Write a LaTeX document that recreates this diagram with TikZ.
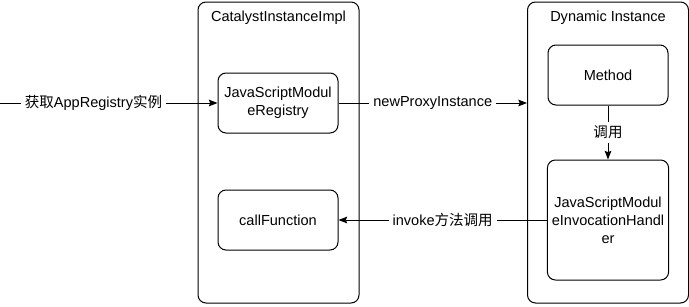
\documentclass[tikz,border=0pt]{standalone}
\usepackage{fontspec}
\setmainfont{Liberation Sans}
\newfontfamily\cjk{Noto Sans CJK SC}
\usetikzlibrary{arrows.meta,positioning}

\tikzset{
  container/.style = {rectangle, draw = black, line width = 0.75pt,
      rounded corners = 6pt, minimum width = 120.75pt, minimum height = 225.75pt},
  block/.style = {rectangle, draw = black, line width = 0.75pt,
      rounded corners = 6pt, minimum width = 90pt, align = center},
  title/.style = {inner sep = 0pt},
  link/.style = {line width = 0.75pt,
      -{Stealth[length = 6.5pt, width = 5pt, inset = 1pt]}},
  tag/.style = {fill = white, inner sep = 3pt}
}

\begin{document}
\begin{tikzpicture}[x = 0.75pt, y = -0.75pt, font = \fontsize{10.9}{13.5}\selectfont]
  \useasboundingbox (0,0) rectangle (689,307);

  % the two outer frames
  \node[container] (catalyst) at (278.5,152.5) {};
  \node[container] (dynamic) at (608,152.5) {};
  \node[title, below = 7pt of catalyst.north] {CatalystInstanceImpl};
  \node[title, below = 7pt of dynamic.north] {Dynamic Instance};

  % inner blocks
  \node[block, minimum height = 45pt] (registry) at (278,103)
      {JavaScriptModul\\eRegistry};
  \node[block, minimum height = 45pt] (callfn) at (278,220) {callFunction};
  \node[block, minimum height = 45pt] (method) at (608,75) {Method};
  \node[block, minimum height = 90pt] (handler) at (608,220)
      {JavaScriptModul\\eInvocationHandl\\er};

  \coordinate (entry) at (0,103);

  % calls between them
  \draw[link] (entry) -- node[tag, pos = 0.43] {{\cjk 获取}AppRegistry{\cjk 实例}} (registry);
  \draw[link] (registry) -- node[tag] {newProxyInstance} (dynamic.west |- registry);
  \draw[link] (method) -- node[tag] {\cjk 调用} (handler);
  \draw[link] (handler) -- node[tag] {invoke{\cjk 方法调用}} (callfn);
\end{tikzpicture}
\end{document}
